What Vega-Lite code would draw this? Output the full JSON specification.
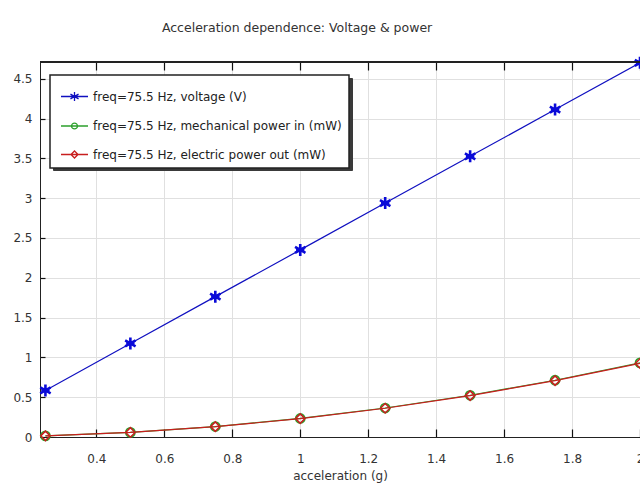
{
  "$schema": "https://vega.github.io/schema/vega-lite/v6.json",
  "autosize": "none",
  "width": 600,
  "height": 375,
  "padding": {"left": 40, "top": 62, "right": 0, "bottom": 49},
  "background": "white",
  "config": {
    "font": "DejaVu Sans",
    "view": {"stroke": null},
    "axis": {"labelFont": "DejaVu Sans", "titleFont": "DejaVu Sans", "labelFontSize": 12, "titleFontSize": 12, "titleFontWeight": "normal", "labelColor": "#333", "titleColor": "#333", "gridColor": "#e0e0e0", "gridWidth": 1, "domainColor": "#222", "tickColor": "#111", "tickWidth": 1.2}
  },
  "title": {"text": "Acceleration dependence: Voltage & power", "anchor": "start", "dx": 149, "offset": 17, "fontSize": 12.5, "fontWeight": "normal", "font": "DejaVu Sans", "color": "#333"},
  "resolve": {"axis": {"x": "independent"}},
  "data": {
    "values": [
      {"a": 0.25, "series": "freq=75.5 Hz, voltage (V)", "v": 0.585},
      {"a": 0.5, "series": "freq=75.5 Hz, voltage (V)", "v": 1.175},
      {"a": 0.75, "series": "freq=75.5 Hz, voltage (V)", "v": 1.763},
      {"a": 1.0, "series": "freq=75.5 Hz, voltage (V)", "v": 2.35},
      {"a": 1.25, "series": "freq=75.5 Hz, voltage (V)", "v": 2.938},
      {"a": 1.5, "series": "freq=75.5 Hz, voltage (V)", "v": 3.525},
      {"a": 1.75, "series": "freq=75.5 Hz, voltage (V)", "v": 4.113},
      {"a": 2.0, "series": "freq=75.5 Hz, voltage (V)", "v": 4.70},
      {"a": 0.25, "series": "freq=75.5 Hz, mechanical power in (mW)", "v": 0.0146},
      {"a": 0.5, "series": "freq=75.5 Hz, mechanical power in (mW)", "v": 0.058},
      {"a": 0.75, "series": "freq=75.5 Hz, mechanical power in (mW)", "v": 0.131},
      {"a": 1.0, "series": "freq=75.5 Hz, mechanical power in (mW)", "v": 0.233},
      {"a": 1.25, "series": "freq=75.5 Hz, mechanical power in (mW)", "v": 0.364},
      {"a": 1.5, "series": "freq=75.5 Hz, mechanical power in (mW)", "v": 0.524},
      {"a": 1.75, "series": "freq=75.5 Hz, mechanical power in (mW)", "v": 0.713},
      {"a": 2.0, "series": "freq=75.5 Hz, mechanical power in (mW)", "v": 0.931},
      {"a": 0.25, "series": "freq=75.5 Hz, electric power out (mW)", "v": 0.0144},
      {"a": 0.5, "series": "freq=75.5 Hz, electric power out (mW)", "v": 0.0575},
      {"a": 0.75, "series": "freq=75.5 Hz, electric power out (mW)", "v": 0.130},
      {"a": 1.0, "series": "freq=75.5 Hz, electric power out (mW)", "v": 0.231},
      {"a": 1.25, "series": "freq=75.5 Hz, electric power out (mW)", "v": 0.361},
      {"a": 1.5, "series": "freq=75.5 Hz, electric power out (mW)", "v": 0.520},
      {"a": 1.75, "series": "freq=75.5 Hz, electric power out (mW)", "v": 0.708},
      {"a": 2.0, "series": "freq=75.5 Hz, electric power out (mW)", "v": 0.924}
    ]
  },
  "encoding": {
    "y": {"field": "v", "type": "quantitative", "scale": {"domain": [0, 4.71], "nice": false},
      "axis": {"title": null, "values": [0, 0.5, 1, 1.5, 2, 2.5, 3, 3.5, 4, 4.5], "format": "~g", "tickSize": -5, "labelPadding": 13, "grid": true, "labelFlush": false}},
    "color": {"field": "series", "type": "nominal",
      "scale": {"domain": ["freq=75.5 Hz, voltage (V)", "freq=75.5 Hz, mechanical power in (mW)", "freq=75.5 Hz, electric power out (mW)"], "range": ["#1010c0", "#2ca02c", "#c81e1e"]}}
  },
  "layer": [
    {
      "mark": {"type": "line", "strokeWidth": 1.2, "clip": false},
      "encoding": {
        "x": {"field": "a", "type": "quantitative", "scale": {"domain": [0.234, 2.0], "nice": false, "zero": false},
          "axis": {"orient": "bottom", "title": "acceleration (g)", "values": [0.4, 0.6, 0.8, 1, 1.2, 1.4, 1.6, 1.8, 2], "format": "~g", "tickSize": -8, "labelPadding": 24, "titlePadding": 6, "grid": true, "labelFlush": false}},
        "color": {"field": "series", "type": "nominal",
          "legend": {"title": null, "orient": "none", "legendX": 10, "legendY": 13, "direction": "vertical", "zindex": 2,
            "fillColor": "white", "strokeColor": "#222", "padding": 7, "rowPadding": 7.5, "symbolOffset": 3,
            "labelFontSize": 12, "labelFont": "DejaVu Sans", "labelColor": "#222", "labelOffset": 4, "labelLimit": 0, "symbolSize": 729,
            "encode": {
              "legend": {"update": {"strokeWidth": {"value": 1.5}}},
              "symbols": {"update": {
              "shape": {"signal": "datum.value == 'freq=75.5 Hz, voltage (V)' ? 'M-1,0L1,0M0,-0.33L0,0.33M-0.3,-0.18L0.3,0.18M-0.3,0.18L0.3,-0.18M-0.2,0L0.2,0' : datum.value == 'freq=75.5 Hz, mechanical power in (mW)' ? 'M-1,0L1,0M-0.22,0A0.22,0.22 0 1,0 0.22,0A0.22,0.22 0 1,0 -0.22,0' : 'M-1,0L1,0M-0.26,0L0,-0.26L0.26,0L0,0.26Z'"},
              "fill": {"value": "transparent"},
              "strokeWidth": {"value": 1.3}
            }}}}
        },
        "opacity": {"field": "series", "type": "nominal",
          "scale": {"domain": ["freq=75.5 Hz, electric power out (mW)", "freq=75.5 Hz, voltage (V)", "freq=75.5 Hz, mechanical power in (mW)"], "range": [1, 1, 1]},
          "legend": {"title": null, "orient": "none", "legendX": 13, "legendY": 16, "direction": "vertical", "zindex": 1,
            "fillColor": "#3a3a3a", "strokeColor": "#3a3a3a", "padding": 7, "rowPadding": 7.5, "symbolOffset": 3,
            "labelFontSize": 12, "labelFont": "DejaVu Sans", "labelColor": "transparent", "labelOffset": 4, "labelLimit": 0, "symbolSize": 729,
            "symbolOpacity": 0, "symbolStrokeColor": "transparent", "symbolFillColor": "transparent"}
        }
      }
    },
    {
      "transform": [{"filter": "datum.series == 'freq=75.5 Hz, voltage (V)'"}],
      "mark": {"type": "point", "shape": "M0,-1L0,1M-0.87,-0.5L0.87,0.5M-0.87,0.5L0.87,-0.5M-0.7,0L0.7,0", "size": 144, "strokeWidth": 2.6, "filled": false, "opacity": 1, "clip": false},
      "encoding": {"x": {"field": "a", "type": "quantitative", "axis": null}, "color": {"value": "#0a0ad8"}}
    },
    {
      "transform": [{"filter": "datum.series == 'freq=75.5 Hz, mechanical power in (mW)'"}],
      "mark": {"type": "point", "shape": "circle", "size": 80, "strokeWidth": 1.8, "filled": false, "opacity": 1, "clip": false},
      "encoding": {"x": {"field": "a", "type": "quantitative", "axis": null}}
    },
    {
      "transform": [{"filter": "datum.series == 'freq=75.5 Hz, electric power out (mW)'"}],
      "mark": {"type": "point", "shape": "diamond", "size": 90, "strokeWidth": 1.5, "filled": false, "opacity": 1, "clip": false},
      "encoding": {"x": {"field": "a", "type": "quantitative", "axis": null}}
    },
    {
      "mark": {"type": "rule", "color": "#222", "strokeWidth": 1},
      "encoding": {
        "x": {"datum": 0.234, "type": "quantitative", "axis": {"orient": "top", "title": null, "labels": false, "values": [0.4, 0.6, 0.8, 1, 1.2, 1.4, 1.6, 1.8, 2], "tickSize": -8, "grid": false}},
        "x2": {"datum": 2.0},
        "y": {"datum": 4.71, "type": "quantitative"},
        "color": {"value": "#222"}}
    }
  ]
}
